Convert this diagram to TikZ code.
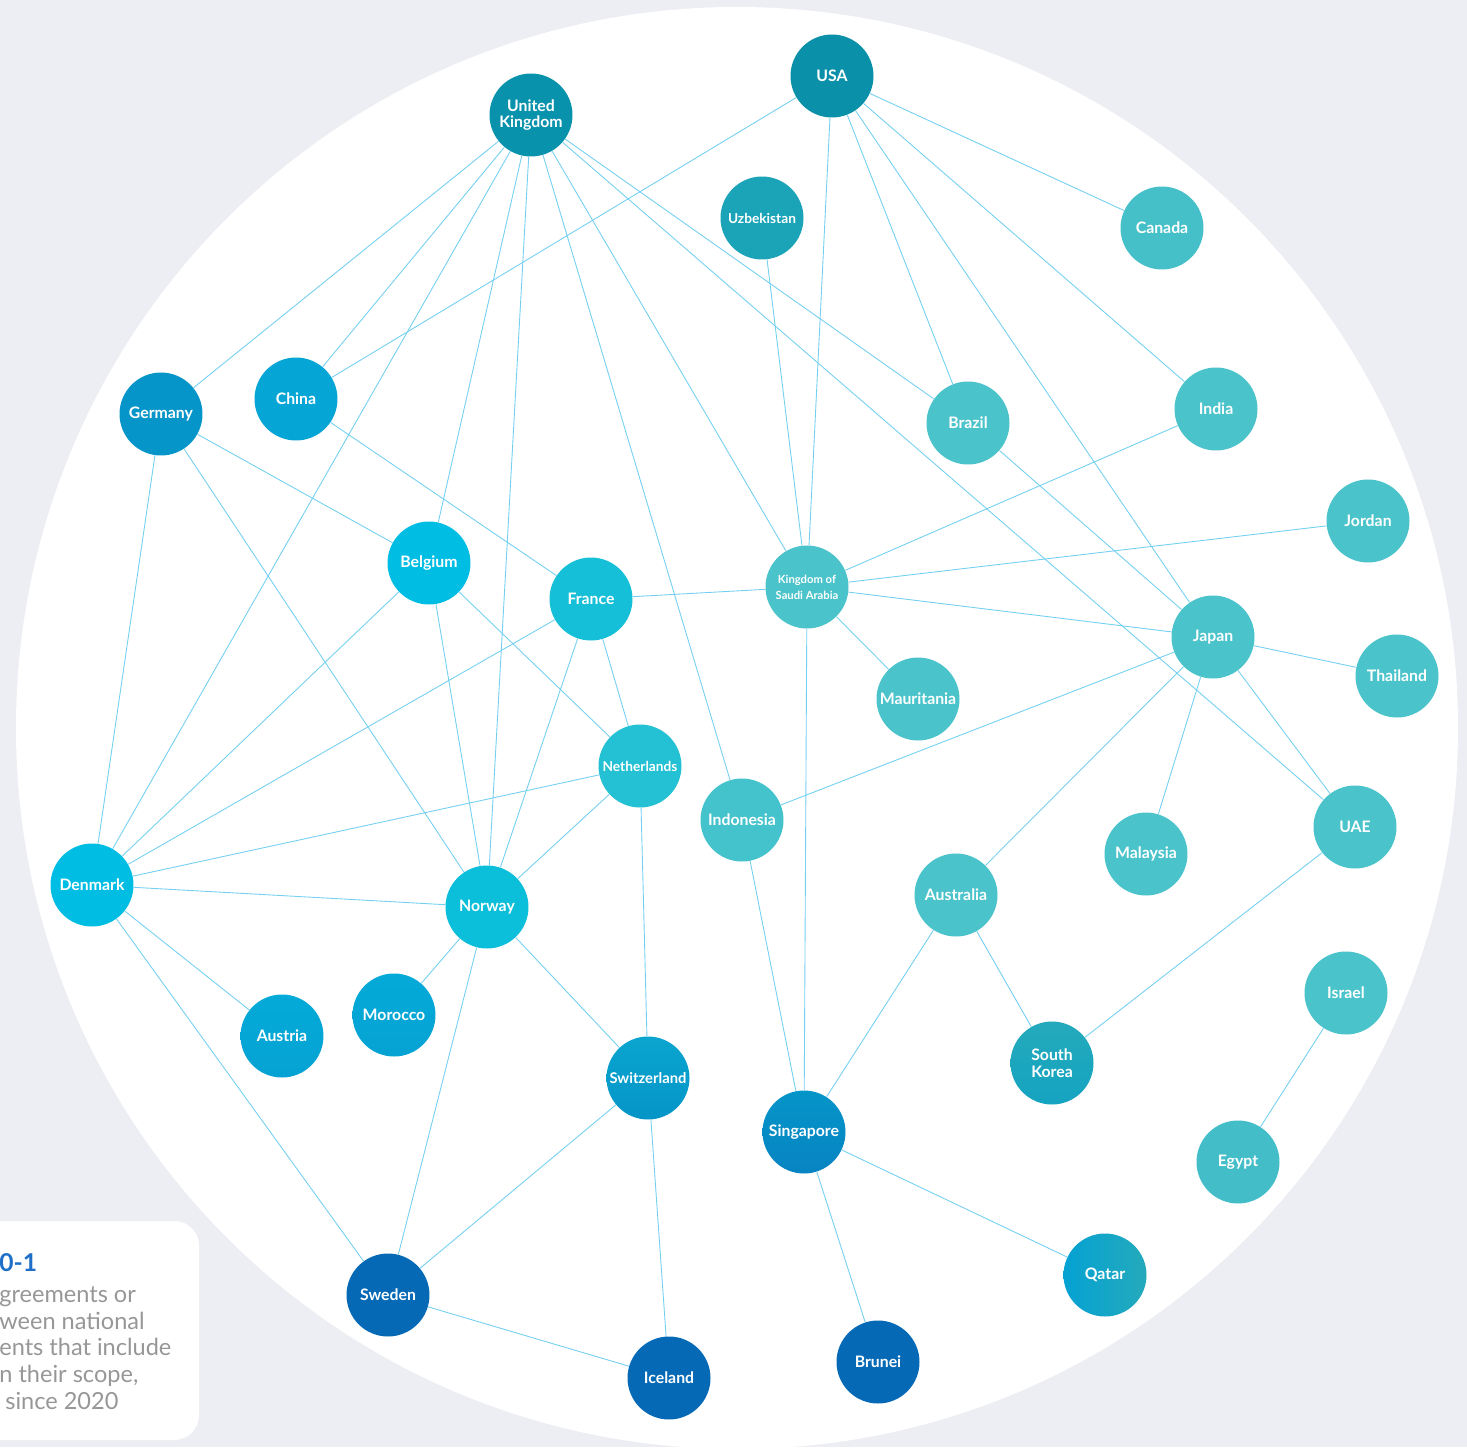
\documentclass[tikz,border=0pt]{standalone}
\usepackage{fontspec}
\setmainfont{Lato}
\usepackage{tikz}
\usetikzlibrary{positioning}
\definecolor{pagegrey}{HTML}{EDEEF3}
\definecolor{edgeblue}{HTML}{74D0F1}
\definecolor{figblue}{HTML}{1F6FC8}
\definecolor{notegrey}{HTML}{979797}
\definecolor{tealdark}{HTML}{0A90A9}
\definecolor{tealmid}{HTML}{1BA3B8}
\definecolor{teallight}{HTML}{4AC3CB}
\definecolor{cyanbright}{HTML}{00BDE3}
\definecolor{cyanmid}{HTML}{0BBED9}
\definecolor{cyandeep}{HTML}{05A5D5}
\definecolor{bluemid}{HTML}{0595C8}
\definecolor{bluesea}{HTML}{0784C2}
\definecolor{bluedeep}{HTML}{0569B5}
\pgfdeclarelayer{paper}
\pgfdeclarelayer{links}
\pgfsetlayers{paper,links,main}
\tikzset{country/.style={circle,minimum size=1.66cm,inner sep=0pt,text=white,align=center,font=\bfseries\fontsize{9}{9.5}\selectfont},
small/.style={font=\bfseries\fontsize{7.8}{8.5}\selectfont},
link/.style={draw=edgeblue,line width=0.5pt}}

\begin{document}
\begin{tikzpicture}[x=0.02cm,y=-0.02cm]
\useasboundingbox (0,0) rectangle (1467,1447);
\begin{pgfonlayer}{paper}
\fill[pagegrey] (0,0) rectangle (1467,1447);
\fill[white] (737,728) circle (721);
\end{pgfonlayer}
% north
\node[country,fill=tealdark] (usa) at (832,76) {USA};
\node[country,fill=tealdark!95!cyanbright] (uk) at (531,115) {United\\Kingdom};
\node[country,small,fill=tealmid] (uzb) at (762,218) {Uzbekistan};
\node[country,fill=teallight!92!tealdark] (canada) at (1162,228) {Canada};
\node[country,fill=bluemid] (germany) at (161,414) {Germany};
\node[country,fill=cyandeep] (china) at (296,399) {China};
\node[country,fill=teallight] (brazil) at (968,423) {Brazil};
\node[country,fill=teallight] (india) at (1216,409) {India};
\node[country,fill=teallight] (jordan) at (1368,521) {Jordan};
% middle
\node[country,fill=cyanbright] (belgium) at (429,563) {Belgium};
\node[country,fill=cyanmid!85!teallight] (france) at (591,599) {France};
\node[country,fill=teallight,font=\bfseries\fontsize{6.4}{9}\selectfont] (ksa) at (807,587) {Kingdom of\\Saudi Arabia};
\node[country,fill=teallight] (japan) at (1213,637) {Japan};
\node[country,fill=teallight] (thailand) at (1397,676) {Thailand};
\node[country,fill=teallight] (mauritania) at (918,699) {Mauritania};
\node[country,small,fill=cyanmid!60!teallight] (netherlands) at (640,766) {Netherlands};
\node[country,fill=teallight!90!cyanmid] (indonesia) at (742,820) {Indonesia};
\node[country,fill=teallight] (uae) at (1355,827) {UAE};
\node[country,fill=teallight] (malaysia) at (1146,854) {Malaysia};
\node[country,fill=cyanbright] (denmark) at (92,885) {Denmark};
\node[country,fill=cyanmid] (norway) at (487,907) {Norway};
\node[country,fill=teallight] (australia) at (956,895) {Australia};
% south
\node[country,fill=teallight] (israel) at (1346,993) {Israel};
\node[country,top color=cyandeep!80!cyanbright,bottom color=cyandeep!85!bluemid] (austria) at (282,1036) {Austria};
\node[country,top color=cyandeep!80!cyanbright,bottom color=cyandeep!85!bluemid] (morocco) at (394,1015) {Morocco};
\node[country,top color=tealmid!80!teallight,bottom color=tealmid!70!cyandeep] (skorea) at (1052,1063) {South\\Korea};
\node[country,top color=cyandeep!80!tealmid,bottom color=bluemid,font=\bfseries\fontsize{8.4}{9}\selectfont] (switzerland) at (648,1078) {Switzerland};
\node[country,top color=bluemid,bottom color=bluesea] (singapore) at (804,1132) {Singapore};
\node[country,fill=teallight!85!tealmid] (egypt) at (1238,1162) {Egypt};
\node[country,left color=cyandeep!80!bluemid,right color=tealmid!80!teallight] (qatar) at (1105,1275) {Qatar};
\node[country,fill=bluedeep] (sweden) at (388,1295) {Sweden};
\node[country,fill=bluedeep] (iceland) at (669,1378) {Iceland};
\node[country,fill=bluedeep] (brunei) at (878,1362) {Brunei};
\begin{pgfonlayer}{links}
\foreach \a/\b in {uk/germany,uk/china,uk/denmark,uk/belgium,uk/norway,uk/indonesia,uk/ksa,uk/uae,uk/brazil,
usa/china,usa/ksa,usa/brazil,usa/japan,usa/india,usa/canada,uzb/ksa,
germany/belgium,germany/denmark,germany/norway,china/france,
belgium/denmark,belgium/norway,belgium/netherlands,
france/denmark,france/norway,france/netherlands,france/ksa,
ksa/jordan,ksa/japan,ksa/india,ksa/mauritania,ksa/singapore,brazil/japan,
japan/thailand,japan/uae,japan/malaysia,japan/australia,japan/indonesia,
netherlands/denmark,netherlands/norway,netherlands/switzerland,
indonesia/singapore,uae/skorea,denmark/norway,denmark/austria,denmark/sweden,
norway/morocco,norway/switzerland,norway/sweden,australia/skorea,australia/singapore,
israel/egypt,switzerland/sweden,switzerland/iceland,singapore/qatar,singapore/brunei,sweden/iceland}
\draw[link] (\a) -- (\b);
\end{pgfonlayer}
% note box, cut by the page edge
\fill[white,rounded corners=14] (-30,1221) rectangle (199,1440);
\node[anchor=west,text=figblue,font=\bfseries\fontsize{14}{16}\selectfont,inner sep=0pt] (figno) at (-1,1263) {0-1};
\node[anchor=north west,text=notegrey,align=left,inner sep=0pt,font=\fontsize{13.4}{15.3}\selectfont] (note) at (-1,1286) {greements or\\ween national\\ents that include\\n their scope,\\\ since 2020};
\end{tikzpicture}
\end{document}
